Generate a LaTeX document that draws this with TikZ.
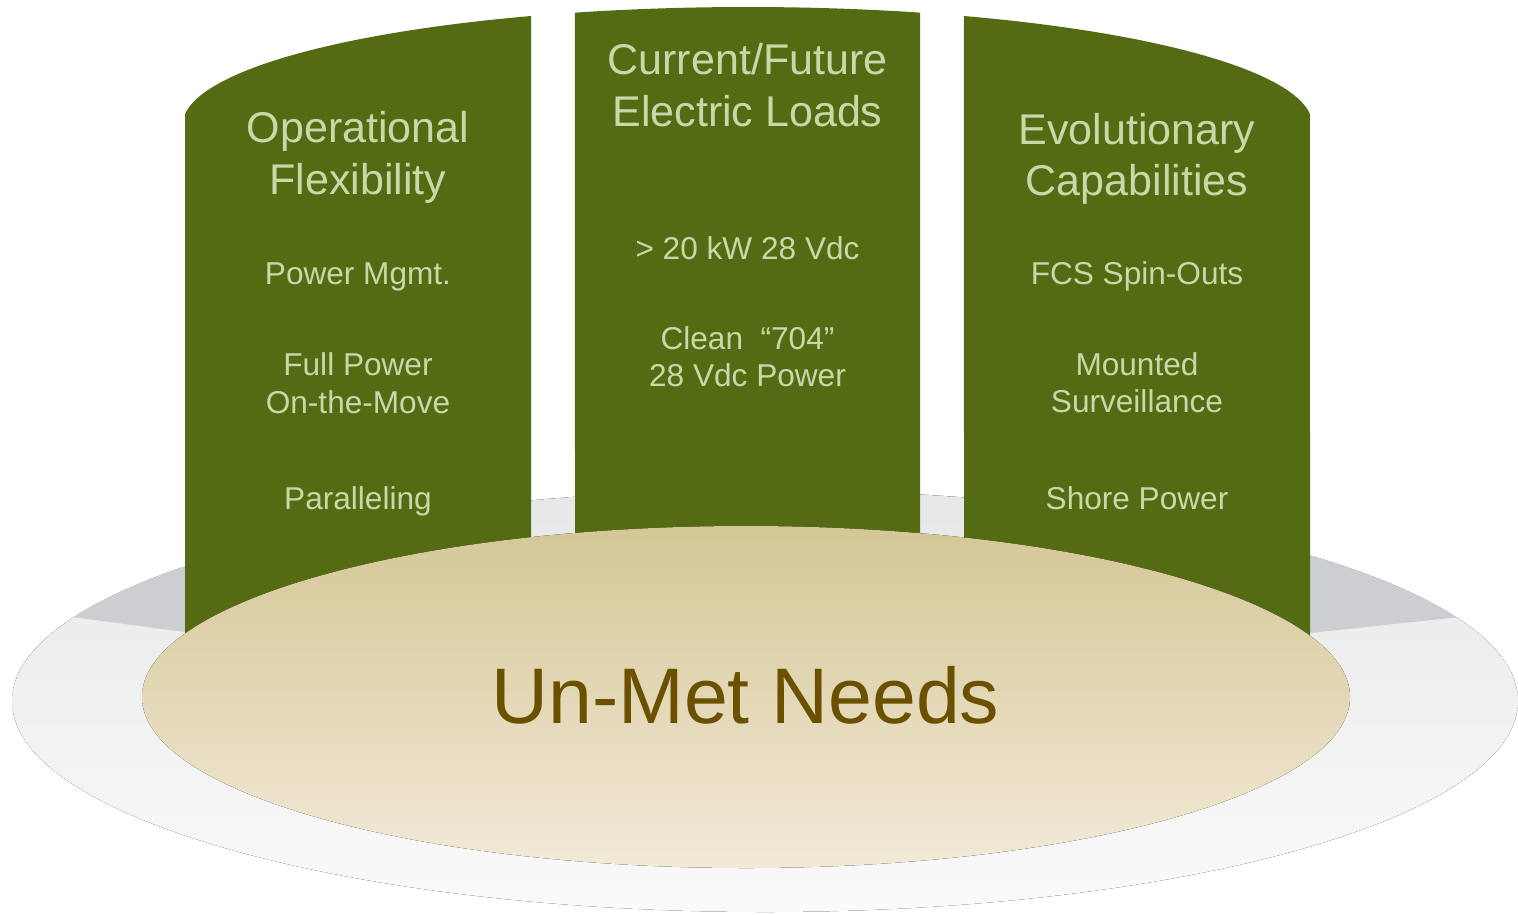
\documentclass[tikz,border=0pt]{standalone}
\usepackage{fontspec}
\setmainfont{Liberation Sans}
\usetikzlibrary{calc}
\definecolor{pillargreen}{HTML}{556B13}
\definecolor{pillartext}{HTML}{C8D8A8}
\definecolor{greytop}{HTML}{E6E7E8}
\definecolor{greybot}{HTML}{FAFAFA}
\definecolor{greydark}{HTML}{CCCED1}
\definecolor{beigetop}{HTML}{D4C796}
\definecolor{beigebot}{HTML}{F2E9D7}
\definecolor{needstext}{HTML}{6B5000}
\tikzset{
  pillar/.style={fill=pillargreen},
  ttl/.style={anchor=base, inner sep=0pt, text=pillartext, font=\fontsize{43}{52}\selectfont},
  item/.style={anchor=base, inner sep=0pt, text=pillartext, font=\fontsize{31.6}{38}\selectfont},
  needs/.style={anchor=base, inner sep=0pt, text=needstext, font=\fontsize{78.8}{90}\selectfont}
}
\begin{document}
\begin{tikzpicture}[x=1pt,y=-1pt]
\useasboundingbox (0,0) rectangle (1518,914);
% grey platform
\fill[top color=greytop, bottom color=greybot] (765,701) ellipse [x radius=753pt, y radius=211pt];
\begin{scope}
  \clip (765,701) ellipse [x radius=753pt, y radius=211pt];
  \fill[greydark] (0,300) -- (185,300) -- (185,632) -- (72,617) -- (0,607) -- cycle;
  \fill[greydark] (1310,300) -- (1518,300) -- (1518,611) -- (1460,617) -- (1310,633) -- cycle;
\end{scope}
% pillars
\fill[pillar] (185,700) -- ($(747.5,125)+(174.61:565pt and 118pt)$)
  arc[start angle=174.61, end angle=112.53, x radius=565pt, y radius=118pt] -- (531,700) -- cycle;
\fill[pillar] (575,700) -- ($(747.5,125)+(107.78:565pt and 118pt)$)
  arc[start angle=107.78, end angle=72.22, x radius=565pt, y radius=118pt] -- (920,700) -- cycle;
\fill[pillar] (964,700) -- ($(747.5,125)+(67.47:565pt and 118pt)$)
  arc[start angle=67.47, end angle=5.39, x radius=565pt, y radius=118pt] -- (1310,700) -- cycle;
% beige ellipse
\fill[top color=beigetop, bottom color=beigebot] (746,697) ellipse [x radius=604pt, y radius=171pt];
\node[needs] (needs) at (745.5,723) {Un-Met Needs};
% left pillar texts
\node[ttl] (l1) at (358,142) {Operational};
\node[ttl] (l2) at (358,194) {Flexibility};
\node[item] (l3) at (358,284) {Power Mgmt.};
\node[item] (l4) at (358,375) {Full Power};
\node[item] (l5) at (358,413) {On-the-Move};
\node[item] (l6) at (358,509) {Paralleling};
% centre pillar texts
\node[ttl] (c1) at (747.5,74) {Current/Future};
\node[ttl] (c2) at (747.5,126) {Electric Loads};
\node[item] (c3) at (747.5,259) {> 20 kW 28 Vdc};
\node[item] (c4) at (747.5,349) {Clean\ \ “704”};
\node[item] (c5) at (747.5,386) {28 Vdc Power};
% right pillar texts
\node[ttl] (r1) at (1137,144) {Evolutionary};
\node[ttl] (r2) at (1137,195) {Capabilities};
\node[item] (r3) at (1137,284) {FCS Spin-Outs};
\node[item] (r4) at (1137,375) {Mounted};
\node[item] (r5) at (1137,412) {Surveillance};
\node[item] (r6) at (1137,509) {Shore Power};
\end{tikzpicture}
\end{document}
